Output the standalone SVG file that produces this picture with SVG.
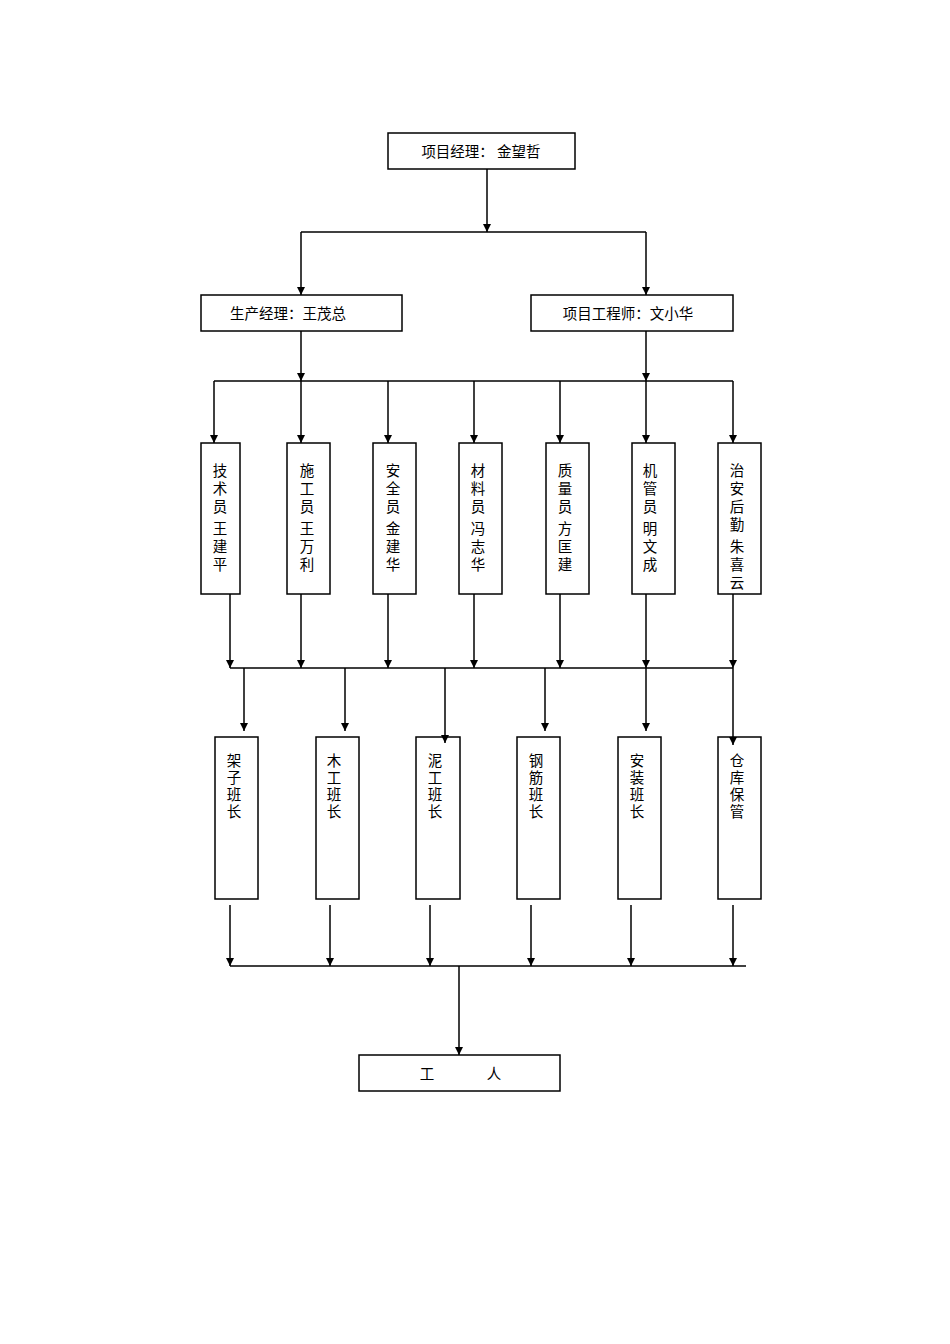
<svg xmlns="http://www.w3.org/2000/svg" width="950" height="1344" viewBox="0 0 950 1344">
<style>
.b{fill:#fff;stroke:#000;stroke-width:1.5}
.t{font-family:"Noto Sans CJK SC",sans-serif;font-size:14.5px;fill:#000}
.c{stroke:#000;stroke-width:1.5;fill:none}
</style>
<defs><marker id="a" viewBox="0 0 10 10" refX="10" refY="5" markerWidth="8" markerHeight="8" orient="auto" markerUnits="userSpaceOnUse"><path d="M0,0L10,5L0,10z"/></marker></defs>
<rect width="950" height="1344" fill="#fff"/>
<g id="n-pm"><rect class="b" x="388" y="133" width="187" height="36"/><text class="t" x="481" y="157" text-anchor="middle">项目经理：  金望哲</text></g>
<g id="n-prod"><rect class="b" x="201" y="295" width="201" height="36"/><text class="t" x="288" y="319" text-anchor="middle">生产经理：王茂总</text></g>
<g id="n-eng"><rect class="b" x="531" y="295" width="202" height="36"/><text class="t" x="628" y="319" text-anchor="middle">项目工程师：文小华</text></g>
<g id="n-js"><rect class="b" x="201" y="443" width="39" height="151"/><text class="t" text-anchor="middle"><tspan x="220" y="476">技</tspan><tspan x="220" y="494">术</tspan><tspan x="220" y="512">员</tspan><tspan x="220" y="534">王</tspan><tspan x="220" y="552">建</tspan><tspan x="220" y="570">平</tspan></text></g>
<g id="n-sg"><rect class="b" x="287" y="443" width="43" height="151"/><text class="t" text-anchor="middle"><tspan x="307" y="476">施</tspan><tspan x="307" y="494">工</tspan><tspan x="307" y="512">员</tspan><tspan x="307" y="534">王</tspan><tspan x="307" y="552">万</tspan><tspan x="307" y="570">利</tspan></text></g>
<g id="n-aq"><rect class="b" x="373" y="443" width="43" height="151"/><text class="t" text-anchor="middle"><tspan x="393" y="476">安</tspan><tspan x="393" y="494">全</tspan><tspan x="393" y="512">员</tspan><tspan x="393" y="534">金</tspan><tspan x="393" y="552">建</tspan><tspan x="393" y="570">华</tspan></text></g>
<g id="n-cl"><rect class="b" x="459" y="443" width="43" height="151"/><text class="t" text-anchor="middle"><tspan x="478" y="476">材</tspan><tspan x="478" y="494">料</tspan><tspan x="478" y="512">员</tspan><tspan x="478" y="534">冯</tspan><tspan x="478" y="552">志</tspan><tspan x="478" y="570">华</tspan></text></g>
<g id="n-zl"><rect class="b" x="546" y="443" width="43" height="151"/><text class="t" text-anchor="middle"><tspan x="565" y="476">质</tspan><tspan x="565" y="494">量</tspan><tspan x="565" y="512">员</tspan><tspan x="565" y="534">方</tspan><tspan x="565" y="552">匡</tspan><tspan x="565" y="570">建</tspan></text></g>
<g id="n-jg"><rect class="b" x="632" y="443" width="43" height="151"/><text class="t" text-anchor="middle"><tspan x="650" y="476">机</tspan><tspan x="650" y="494">管</tspan><tspan x="650" y="512">员</tspan><tspan x="650" y="534">明</tspan><tspan x="650" y="552">文</tspan><tspan x="650" y="570">成</tspan></text></g>
<g id="n-za"><rect class="b" x="718" y="443" width="43" height="151"/><text class="t" text-anchor="middle"><tspan x="737" y="476">治</tspan><tspan x="737" y="494">安</tspan><tspan x="737" y="512">后</tspan><tspan x="737" y="530">勤</tspan><tspan x="737" y="552">朱</tspan><tspan x="737" y="570">喜</tspan><tspan x="737" y="588">云</tspan></text></g>
<g id="n-jz"><rect class="b" x="215" y="737" width="43" height="162"/><text class="t" text-anchor="middle"><tspan x="234" y="766">架</tspan><tspan x="234" y="783">子</tspan><tspan x="234" y="800">班</tspan><tspan x="234" y="817">长</tspan></text></g>
<g id="n-mg"><rect class="b" x="316" y="737" width="43" height="162"/><text class="t" text-anchor="middle"><tspan x="334" y="766">木</tspan><tspan x="334" y="783">工</tspan><tspan x="334" y="800">班</tspan><tspan x="334" y="817">长</tspan></text></g>
<g id="n-ng"><rect class="b" x="416" y="737" width="44" height="162"/><text class="t" text-anchor="middle"><tspan x="435" y="766">泥</tspan><tspan x="435" y="783">工</tspan><tspan x="435" y="800">班</tspan><tspan x="435" y="817">长</tspan></text></g>
<g id="n-gj"><rect class="b" x="517" y="737" width="43" height="162"/><text class="t" text-anchor="middle"><tspan x="536" y="766">钢</tspan><tspan x="536" y="783">筋</tspan><tspan x="536" y="800">班</tspan><tspan x="536" y="817">长</tspan></text></g>
<g id="n-az"><rect class="b" x="618" y="737" width="43" height="162"/><text class="t" text-anchor="middle"><tspan x="637" y="766">安</tspan><tspan x="637" y="783">装</tspan><tspan x="637" y="800">班</tspan><tspan x="637" y="817">长</tspan></text></g>
<g id="n-ck"><rect class="b" x="718" y="737" width="43" height="162"/><text class="t" text-anchor="middle"><tspan x="737" y="766">仓</tspan><tspan x="737" y="783">库</tspan><tspan x="737" y="800">保</tspan><tspan x="737" y="817">管</tspan></text></g>
<g id="n-gr"><rect class="b" x="359" y="1055" width="201" height="36"/><text class="t" text-anchor="middle"><tspan x="427" y="1079">工</tspan><tspan x="494" y="1079">人</tspan></text></g>
<g id="connectors">
<path class="c" d="M487,169V232" marker-end="url(#a)"/>
<path class="c" d="M301,232H646"/>
<path class="c" d="M301,232V295" marker-end="url(#a)"/>
<path class="c" d="M646,232V295" marker-end="url(#a)"/>
<path class="c" d="M301,331V381" marker-end="url(#a)"/>
<path class="c" d="M646,331V381" marker-end="url(#a)"/>
<path class="c" d="M214,381H733"/>
<path class="c" d="M214,381V443" marker-end="url(#a)"/>
<path class="c" d="M301,381V443" marker-end="url(#a)"/>
<path class="c" d="M388,381V443" marker-end="url(#a)"/>
<path class="c" d="M474,381V443" marker-end="url(#a)"/>
<path class="c" d="M560,381V443" marker-end="url(#a)"/>
<path class="c" d="M646,381V443" marker-end="url(#a)"/>
<path class="c" d="M733,381V443" marker-end="url(#a)"/>
<path class="c" d="M230,594V668" marker-end="url(#a)"/>
<path class="c" d="M301,594V668" marker-end="url(#a)"/>
<path class="c" d="M388,594V668" marker-end="url(#a)"/>
<path class="c" d="M474,594V668" marker-end="url(#a)"/>
<path class="c" d="M560,594V668" marker-end="url(#a)"/>
<path class="c" d="M646,594V668" marker-end="url(#a)"/>
<path class="c" d="M733,594V668" marker-end="url(#a)"/>
<path class="c" d="M230,668H733"/>
<path class="c" d="M244,668V731" marker-end="url(#a)"/>
<path class="c" d="M345,668V731" marker-end="url(#a)"/>
<path class="c" d="M445,668V743" marker-end="url(#a)"/>
<path class="c" d="M545,668V731" marker-end="url(#a)"/>
<path class="c" d="M646,668V731" marker-end="url(#a)"/>
<path class="c" d="M733,668V745" marker-end="url(#a)"/>
<path class="c" d="M230,905V966" marker-end="url(#a)"/>
<path class="c" d="M330,905V966" marker-end="url(#a)"/>
<path class="c" d="M430,905V966" marker-end="url(#a)"/>
<path class="c" d="M531,905V966" marker-end="url(#a)"/>
<path class="c" d="M631,905V966" marker-end="url(#a)"/>
<path class="c" d="M733,905V966" marker-end="url(#a)"/>
<path class="c" d="M230,966H746"/>
<path class="c" d="M459,966V1055" marker-end="url(#a)"/>
</g>
</svg>
